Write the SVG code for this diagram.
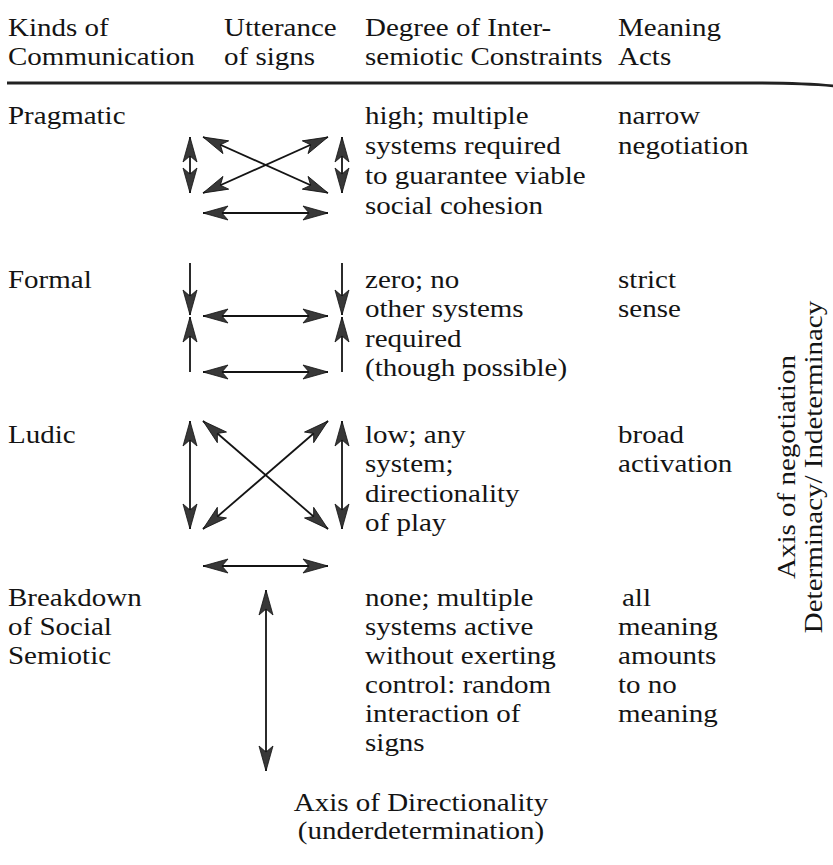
<svg xmlns="http://www.w3.org/2000/svg" width="833" height="865" viewBox="0 0 833 865">
<style>
text{font-family:"Liberation Serif","Times New Roman",serif;font-size:25px;fill:#141414}
.c{stroke:#141414;stroke-width:1.8;fill:none}
.d{marker-start:url(#ah);marker-end:url(#ah)}
.e{marker-end:url(#ah)}
</style>
<defs>
<marker id="ah" viewBox="-27 -9 29 18" refX="0" refY="0" markerWidth="29" markerHeight="18" markerUnits="userSpaceOnUse" orient="auto-start-reverse">
<path d="M0,0 L-25,-7 L-19,0 L-25,7 Z" fill="#383838" stroke="#111" stroke-width="0.8" stroke-linejoin="miter"/>
</marker>
</defs>
<rect width="833" height="865" fill="#fff"/>

<g id="header">
<g transform="scale(1.16 1)">
<text x="6.9" y="36">Kinds of</text>
<text x="6.9" y="65">Communication</text>
<text x="193.1" y="36">Utterance</text>
<text x="193.1" y="65">of signs</text>
<text x="314.7" y="36">Degree of Inter-</text>
<text x="314.7" y="65">semiotic Constraints</text>
<text x="532.8" y="36">Meaning</text>
<text x="532.8" y="65">Acts</text>
</g>
<path d="M7,81.4 L760,81.4 Q805,81.6 833,84.5 L833,87.2 Q805,84.8 760,84.6 L7,84.6 Z" fill="#222"/>
</g>

<g id="row-pragmatic">
<g transform="scale(1.16 1)">
<text x="6.9" y="124">Pragmatic</text>
<text x="314.7" y="124">high; multiple</text>
<text x="314.7" y="154">systems required</text>
<text x="314.7" y="184">to guarantee viable</text>
<text x="314.7" y="214">social cohesion</text>
<text x="532.8" y="124">narrow</text>
<text x="532.8" y="154">negotiation</text>
</g>
</g>

<g id="row-formal">
<g transform="scale(1.16 1)">
<text x="6.9" y="288">Formal</text>
<text x="314.7" y="288">zero; no</text>
<text x="314.7" y="317.5">other systems</text>
<text x="314.7" y="347">required</text>
<text x="314.7" y="376.5">(though possible)</text>
<text x="532.8" y="288">strict</text>
<text x="532.8" y="317.5">sense</text>
</g>
</g>

<g id="row-ludic">
<g transform="scale(1.16 1)">
<text x="6.9" y="443">Ludic</text>
<text x="314.7" y="443">low; any</text>
<text x="314.7" y="472.5">system;</text>
<text x="314.7" y="502">directionality</text>
<text x="314.7" y="531.5">of play</text>
<text x="532.8" y="443">broad</text>
<text x="532.8" y="472.5">activation</text>
</g>
</g>

<g id="row-breakdown">
<g transform="scale(1.16 1)">
<text x="6.9" y="606">Breakdown</text>
<text x="6.9" y="635">of Social</text>
<text x="6.9" y="664">Semiotic</text>
<text x="314.7" y="606">none; multiple</text>
<text x="314.7" y="635">systems active</text>
<text x="314.7" y="664">without exerting</text>
<text x="314.7" y="693">control: random</text>
<text x="314.7" y="722">interaction of</text>
<text x="314.7" y="751">signs</text>
<text x="536.2" y="606">all</text>
<text x="532.8" y="635">meaning</text>
<text x="532.8" y="664">amounts</text>
<text x="532.8" y="693">to no</text>
<text x="532.8" y="722">meaning</text>
</g>
</g>

<g id="axis-directionality">
<g transform="scale(1.16 1)">
<text x="362.9" y="811" text-anchor="middle">Axis of Directionality</text>
<text x="362.9" y="839" text-anchor="middle">(underdetermination)</text>
</g>
</g>

<g id="axis-negotiation">
<text transform="translate(795 467) rotate(-90) scale(1.16 1)" text-anchor="middle">Axis of negotiation</text>
<text transform="translate(822 467) rotate(-90) scale(1.16 1)" text-anchor="middle">Determinacy/ Indeterminacy</text>
</g>

<g id="connectors">
<!-- Pragmatic -->
<line class="c d" x1="190" y1="137" x2="190" y2="193"/>
<line class="c d" x1="342" y1="137" x2="342" y2="193"/>
<line class="c d" x1="203" y1="137" x2="328" y2="193"/>
<line class="c d" x1="203" y1="193" x2="328" y2="137"/>
<line class="c d" x1="203" y1="213" x2="328" y2="213"/>
<!-- Formal -->
<line class="c e" x1="190" y1="263" x2="190" y2="315"/>
<line class="c e" x1="190" y1="372" x2="190" y2="317"/>
<line class="c e" x1="342" y1="263" x2="342" y2="315"/>
<line class="c e" x1="342" y1="372" x2="342" y2="317"/>
<line class="c d" x1="203" y1="316" x2="328" y2="316"/>
<line class="c d" x1="203" y1="372" x2="328" y2="372"/>
<!-- Ludic -->
<line class="c d" x1="190" y1="421" x2="190" y2="529"/>
<line class="c d" x1="342" y1="421" x2="342" y2="529"/>
<line class="c d" x1="203" y1="421" x2="328" y2="529"/>
<line class="c d" x1="203" y1="529" x2="328" y2="421"/>
<line class="c d" x1="203" y1="566" x2="328" y2="566"/>
<!-- Breakdown -->
<line class="c d" x1="266" y1="590" x2="266" y2="771"/>
</g>
</svg>
